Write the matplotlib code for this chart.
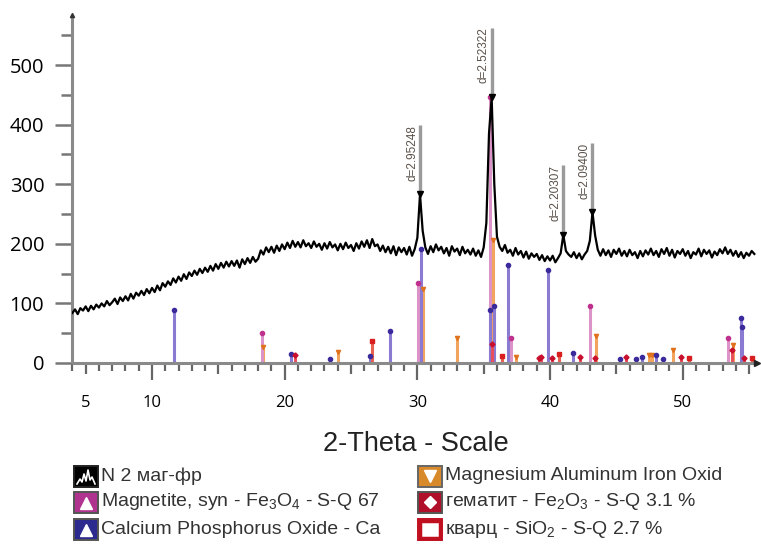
import numpy as np
import matplotlib
matplotlib.use("Agg")
from matplotlib import pyplot as plt
from matplotlib.patches import Rectangle
from matplotlib.lines import Line2D
from matplotlib.ticker import FixedLocator, NullFormatter

# Measured pattern, 2-theta from 4.0 in 0.2 deg steps (one row per degree)
intensity = [
    84, 90, 82, 92, 88,      # 4
    95, 87, 96, 90, 98,      # 5
    93, 100, 95, 104, 97,    # 6
    102, 108, 99, 110, 104,  # 7
    112, 105, 116, 108, 118, # 8
    113, 121, 114, 124, 117, # 9
    126, 119, 130, 122, 134, # 10
    128, 137, 131, 142, 135, # 11
    145, 138, 149, 141, 152, # 12
    146, 155, 148, 158, 151, # 13
    160, 153, 163, 155, 166, # 14
    158, 168, 160, 170, 162, # 15
    171, 163, 172, 160, 174, # 16
    166, 176, 168, 178, 170, # 17
    175, 189, 182, 194, 186, # 18
    195, 185, 197, 188, 199, # 19
    191, 202, 193, 205, 195, # 20
    203, 194, 206, 196, 201, # 21
    193, 204, 195, 200, 190, # 22
    201, 192, 203, 194, 199, # 23
    189, 200, 191, 202, 193, # 24
    198, 188, 201, 192, 204, # 25
    195, 206, 193, 208, 196, # 26
    199, 188, 197, 186, 195, # 27
    184, 196, 181, 194, 186, # 28
    193, 182, 195, 180, 191, # 29
    210, 283, 222, 194, 183, # 30
    196, 186, 199, 189, 195, # 31
    184, 193, 180, 196, 187, # 32
    192, 181, 195, 184, 190, # 33
    182, 192, 180, 189, 178, # 34
    194, 235, 385, 446, 300, # 35
    212, 195, 188, 198, 185, # 36
    190, 180, 193, 182, 188, # 37
    177, 187, 175, 184, 178, # 38
    183, 173, 181, 171, 179, # 39
    172, 180, 169, 176, 184, # 40
    215, 188, 182, 178, 186, # 41
    176, 184, 174, 182, 188, # 42
    205, 253, 214, 190, 180, # 43
    191, 181, 189, 178, 190, # 44
    183, 192, 180, 188, 179, # 45
    190, 181, 186, 176, 188, # 46
    179, 189, 182, 192, 181, # 47
    188, 178, 191, 183, 193, # 48
    180, 190, 177, 188, 183, # 49
    191, 180, 188, 176, 186, # 50
    182, 192, 179, 190, 183, # 51
    189, 177, 187, 181, 191, # 52
    184, 194, 183, 190, 180, # 53
    188, 178, 186, 176, 185, # 54
    180, 188, 183,           # 55
]
two_theta = np.round(4.0 + 0.2 * np.arange(len(intensity)), 1)

# labelled peaks
peak_pos = [30.2, 35.6, 41.0, 43.2]
peak_height = [283, 446, 215, 253]
peak_label = ["d=2.95248", "d=2.52322", "d=2.20307", "d=2.09400"]

# reference stick patterns
magnetite_pos = [18.27, 30.05, 35.5, 37.05, 43.05, 53.4]
magnetite_h = [50, 134, 446, 42, 96, 42]

mgal_pos = [18.4, 24.05, 30.4, 33.0, 35.7, 37.4, 43.45, 47.45, 47.65, 49.25, 53.8]
mgal_h = [27, 18, 124, 42, 206, 10, 45, 14, 14, 22, 30]

caph_pos = [11.65, 20.5, 23.45, 26.4, 27.95, 30.3, 35.45, 35.8, 36.8, 39.85,
            41.7, 45.25, 46.45, 46.9, 47.95, 48.5, 54.4, 54.5]
caph_h = [89, 15, 7, 12, 54, 192, 89, 96, 164, 156, 17, 7, 7, 10, 13, 7, 75, 60]

hematite_pos = [20.75, 35.6, 39.15, 39.3, 40.15, 42.25, 43.4, 45.7, 49.85, 53.75, 54.65]
hematite_h = [13, 32, 8, 10, 8, 10, 8, 10, 10, 22, 8]

quartz_pos = [26.6, 36.4, 40.7, 50.45, 55.2]
quartz_h = [37, 12, 15, 8, 8]

W, H = 761, 545
fig = plt.figure(figsize=(W / 100, H / 100), dpi=100)
ax = fig.add_axes([72 / W, 1 - 363 / H, 685 / W, 348 / H])
ax.set_xlim(3.97, 55.6)
ax.set_ylim(0, 584)

# sticks: (positions, heights, stick colour, marker colour, marker)
phases = [
    (mgal_pos, mgal_h, "#f2a45e", "#e0721e", "v"),
    (magnetite_pos, magnetite_h, "#dc93c8", "#c0308f", "o"),
    (caph_pos, caph_h, "#8a7ad2", "#3a2a9c", "o"),
    (hematite_pos, hematite_h, "#e8505c", "#c8102e", "D"),
    (quartz_pos, quartz_h, "#e86050", "#d81e1e", "s"),
]
for pos, h, lc, mc, mk in phases:
    ax.vlines(pos, 0, h, colors=lc, linewidth=2.2, zorder=2)
    ax.plot(pos, h, linestyle="none", marker=mk,
            markersize=2.6 if mk == "D" else 3.0, color=mc, zorder=2.5)

ax.plot(two_theta, intensity, color="black", linewidth=1.6, zorder=3)

# peak labels
for p, h, lab in zip(peak_pos, peak_height, peak_label):
    ax.vlines(p, h, h + 117, colors="#9a9a9a", linewidth=2.4, zorder=3.5)
    ax.plot(p, h, marker="v", markersize=4, color="black", zorder=4)
    ax.text(p - 0.15, h + 117, lab, rotation=90, ha="right", va="top",
            fontsize=8.5, color="#5a5048", family="Liberation Sans", zorder=4)

# axes styling
for s in ["top", "right"]:
    ax.spines[s].set_visible(False)
for s in ["left", "bottom"]:
    ax.spines[s].set_color("#8a8a8a")
    ax.spines[s].set_linewidth(2.2)
    ax.spines[s].set_capstyle("butt")
ax.plot(3.97, 584, marker="^", markersize=3, color="#333333", clip_on=False, zorder=5)
ax.plot(55.6, 0, marker=">", markersize=4, color="#222222", clip_on=False, zorder=5)

ax.yaxis.set_major_locator(FixedLocator([0, 100, 200, 300, 400, 500]))
ax.yaxis.set_minor_locator(FixedLocator([50, 150, 250, 350, 450, 550]))
ax.tick_params(axis="y", which="major", length=12, width=1.8, color="#777777",
               pad=8, labelsize=14.5, labelcolor="black")
ax.tick_params(axis="y", which="minor", length=8, width=1.8, color="#777777")

ax.xaxis.set_major_locator(FixedLocator([10, 20, 30, 40, 50]))
ax.xaxis.set_minor_locator(FixedLocator([d for d in range(4, 56) if d % 5 != 0]))
ax.xaxis.set_minor_formatter(NullFormatter())
ax.tick_params(axis="x", which="major", length=12, width=1.6, color="#666666",
               pad=11, labelsize=12, labelcolor="black")
ax.tick_params(axis="x", which="minor", length=6, width=1.6, color="#666666")
for lbl in ax.get_xticklabels() + ax.get_yticklabels():
    lbl.set_family("Open Sans")

sec = ax.secondary_xaxis("bottom")
sec.spines["bottom"].set_visible(False)
sec.set_xticks([5, 15, 25, 35, 45, 55])
sec.set_xticklabels(["5", "", "", "", "", ""])
sec.tick_params(axis="x", length=8, width=1.6, color="#666666", pad=15,
                labelsize=12, labelcolor="black")
for lbl in sec.get_xticklabels():
    lbl.set_family("Open Sans")

# x axis title
fig.text(416 / W, 1 - 444 / H, "2-Theta - Scale", ha="center", va="center",
         fontsize=19.5, color="#222222", family="Liberation Sans")


def fx(x):
    return x / W


def fy(y):
    return 1 - y / H


def icon(x, y, face, edge):
    fig.add_artist(Rectangle((fx(x), fy(y + 21)), 24 / W, 21 / H,
                             facecolor=face, edgecolor=edge, linewidth=1.4,
                             transform=fig.transFigure))


# legend entries
rows = [476, 502, 529]
legend_left = [
    ("black", "#222222", "N 2 маг-фр"),
    ("#b0338f", "#555555", r"Magnetite, syn - Fe$\mathregular{_3}$O$\mathregular{_4}$ - S-Q 67"),
    ("#2d2a8f", "#555555", "Calcium Phosphorus Oxide - Ca"),
]
legend_right = [
    ("#d88a2a", "#666666", "v", "Magnesium Aluminum Iron Oxid"),
    ("#b0102a", "#555555", "D", r"гематит - Fe$\mathregular{_2}$O$\mathregular{_3}$ - S-Q 3.1 %"),
    ("white", "#c01020", "s", r"кварц - SiO$\mathregular{_2}$ - S-Q 2.7 %"),
]
for (face, edge, text), y in zip(legend_left, rows):
    icon(74, y - 10.5, face, edge)
    fig.text(fx(101), fy(y), text, ha="left", va="center", fontsize=14,
             color="#333333", family="Liberation Sans")
# icon glyphs, left column
gx = np.array([77, 80, 82, 84, 86, 88, 90, 92, 95])
gy = np.array([484, 479, 482, 474, 481, 470, 480, 477, 484])
fig.add_artist(Line2D(fx(gx), fy(gy), color="white", linewidth=1.2,
                      transform=fig.transFigure))
for y in rows[1:]:
    fig.add_artist(Line2D([fx(86)], [fy(y + 1)], marker="^", markersize=9,
                          color="white", transform=fig.transFigure))

for (face, edge, mk, text), y in zip(legend_right, rows):
    icon(418, y - 10.5, face, edge)
    if mk == "s":
        fig.add_artist(Rectangle((fx(420), fy(y + 8.5)), 20 / W, 17 / H,
                                 facecolor="white", edgecolor="#c01020",
                                 linewidth=2.5, transform=fig.transFigure))
    else:
        fig.add_artist(Line2D([fx(430)], [fy(y)], marker=mk,
                              markersize=8 if mk == "v" else 6, color="white",
                              transform=fig.transFigure))
    fig.text(fx(445), fy(y), text, ha="left", va="center", fontsize=14,
             color="#333333", family="Liberation Sans")

fig.savefig("out.png", dpi=100)
